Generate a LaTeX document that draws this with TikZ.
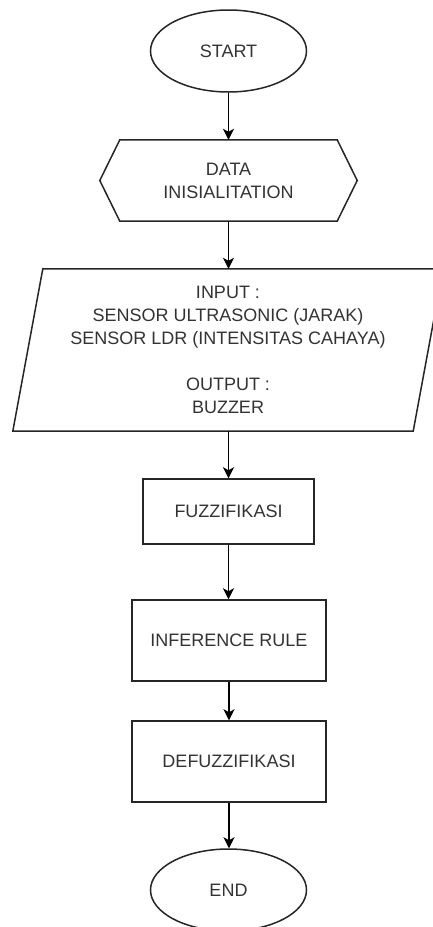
\documentclass[tikz,border=0pt]{standalone}
\usepackage{fontspec}
\setmainfont{Liberation Sans}
\usetikzlibrary{shapes.geometric,arrows.meta}
\begin{document}
\begin{tikzpicture}[x=1pt,y=-1pt,
  every node/.style={font=\fontsize{18}{23}\selectfont, text=black!80, align=center, inner sep=0pt},
  terminal/.style={ellipse, draw=black!85, line width=1.5pt, minimum width=156pt, minimum height=82pt},
  procbox/.style={rectangle, draw=black!85, line width=1.5pt},
  shapeline/.style={draw=black!85, line width=1.5pt, line join=miter},
  flow/.style={draw=black, line width=1.5pt, -{Stealth[length=11pt,width=11pt,inset=3pt]}}
]
\useasboundingbox (0,0) rectangle (432,927);
\fill[white] (0,0) rectangle (432,927);

\node[terminal] (start) at (228.5,51) {START};

\node[minimum width=217pt, minimum height=81pt] (init) at (228.5,180.5) {DATA\\INISIALITATION};
\draw[shapeline] ([xshift=-20pt]init.west) -- (init.north west) -- (init.north east)
  -- ([xshift=20pt]init.east) -- (init.south east) -- (init.south west) -- cycle;

\node[minimum width=400pt, minimum height=162pt] (io) at (228,350)
  {INPUT :\\SENSOR ULTRASONIC (JARAK)\\SENSOR LDR (INTENSITAS CAHAYA)\\[23pt]OUTPUT :\\BUZZER};
\draw[shapeline] ([xshift=15pt]io.north west) -- ([xshift=15pt]io.north east)
  -- ([xshift=-15pt]io.south east) -- ([xshift=-15pt]io.south west) -- cycle;

\node[procbox, minimum width=171pt, minimum height=65pt] (fuzz) at (228.5,511.5) {FUZZIFIKASI};
\node[procbox, minimum width=194pt, minimum height=81pt] (infer) at (229,640.5) {INFERENCE RULE};
\node[procbox, minimum width=194pt, minimum height=81pt] (defuzz) at (229,761.5) {DEFUZZIFIKASI};

\node[terminal] (end) at (228.5,890) {END};

\draw[flow] (start.south) -- (init.north);
\draw[flow] (init.south) -- (init.south |- io.north);
\draw[flow] (io.south -| fuzz.north) -- (fuzz.north);
\draw[flow] (fuzz.south) -- (fuzz.south |- infer.north);
\draw[flow] (infer.south) -- (defuzz.north);
\draw[flow] (defuzz.south) -- (defuzz.south |- end.north);
\end{tikzpicture}
\end{document}
